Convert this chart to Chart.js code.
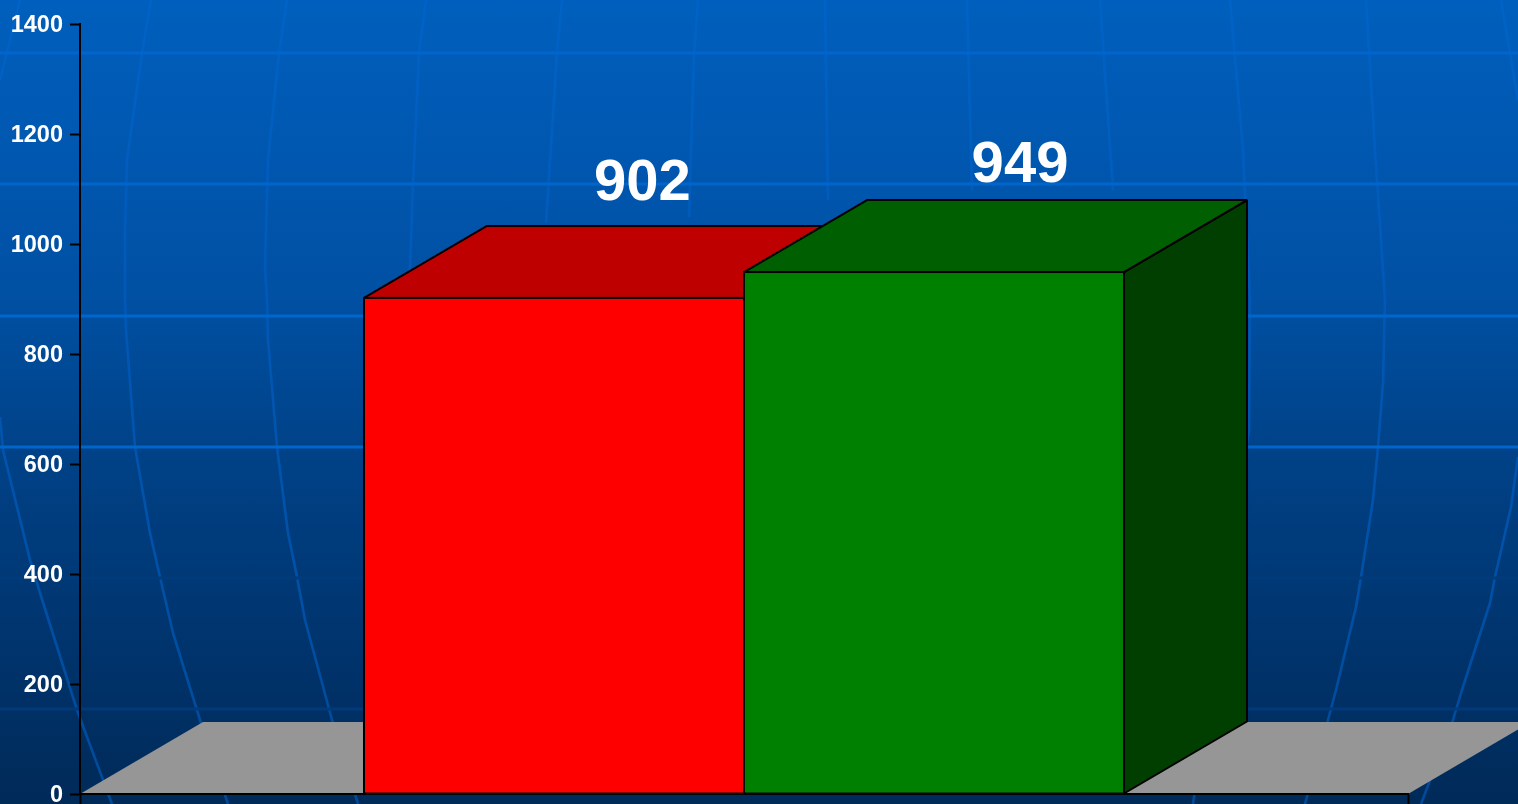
<!DOCTYPE html>
<html>
<head>
<meta charset="utf-8">
<script src="https://cdn.jsdelivr.net/npm/chart.js@4"></script>
<style>
html,body{margin:0;padding:0;width:1518px;height:804px;overflow:hidden;background:#002a58}
#bg{position:absolute;left:0;top:0}
#c{position:absolute;left:0;top:0;display:block}
</style>
</head>
<body>
<svg id="bg" width="1518" height="804" viewBox="0 0 1518 804" xmlns="http://www.w3.org/2000/svg">
<defs>
<linearGradient id="sky" gradientUnits="userSpaceOnUse" x1="0" y1="0" x2="0" y2="804">
<stop offset="0" stop-color="#005FBD"/><stop offset="0.37" stop-color="#0050A3"/>
<stop offset="0.56" stop-color="#004288"/><stop offset="0.8" stop-color="#00346D"/>
<stop offset="1" stop-color="#002A58"/>
</linearGradient>
<linearGradient id="mer" gradientUnits="userSpaceOnUse" x1="0" y1="0" x2="0" y2="804">
<stop offset="0" stop-color="#0063C8"/><stop offset="0.4" stop-color="#0058B6"/>
<stop offset="1" stop-color="#004A9A"/>
</linearGradient>
</defs>
<rect width="1518" height="804" fill="url(#sky)"/>
<g id="mers" fill="none" stroke="url(#mer)" stroke-width="2.6" stroke-linejoin="round"></g>
<g id="hors"></g>
</svg>
<canvas id="c" width="1518" height="804"></canvas>
<script>
// ---- chart values ----
const categories = [''];
const seriesNames = ['A', 'B'];
const seriesValues = [902, 949];
const axisMin = 0, axisMax = 1400, axisStep = 200;

// ---- styles ----
const frontColors = ['#FF0000', '#008000'];
const topColors = ['#BF0000', '#005F00'];
const sideColors = ['#7F0000', '#003F00'];
const floorColor = '#969696';
const depthX = 123, depthY = 72;
const labelDX = [88.5, 86], labelDY = [-97.5, -90];

// ---- backdrop decoration ----
const meridians = [
 '20,0 0,80', '0,417 3,450 30,560 40,593 77,710 112,804',
 '151,0 142,53 127,160 125,233 125,300 126,330 135,447 150,533 160,577 173,633 200,720 228,804',
 '287,0 279,53 268,160 265,267 267,300 268,340 277,447 288,533 297,577 305,620 332,720 358,804',
 '426,0 419,53 413,183 410,267 409,300', '562,0 557,53 546,223', '698,0 694,55 689,217',
 '825,0 828,200', '967,0 972,190', '1100,0 1113,190',
 '1230,0 1243,150 1250,300 1249,430 1193,804',
 '1366,0 1375,150 1385,300 1383,383 1378,447 1373,500 1361,577 1356,607 1336,690 1328,720 1305,804',
 '1501,0 1518,100', '1518,457 1511,507 1495,577 1490,603 1461,693 1453,720 1421,804'
];
const horizontals = [[53,'#0066CC'],[184,'#0066CC'],[316,'#0066CC'],[447,'#0066CC'],[578,'#003C7B'],[709,'#003A7A']];
const NS = 'http://www.w3.org/2000/svg';
meridians.forEach(p => { const e = document.createElementNS(NS,'polyline'); e.setAttribute('points',p); document.getElementById('mers').appendChild(e); });
horizontals.forEach(([y,col]) => { const e = document.createElementNS(NS,'rect'); e.setAttribute('x',0); e.setAttribute('y',y-1.5); e.setAttribute('width',1518); e.setAttribute('height',3); e.setAttribute('fill',col); document.getElementById('hors').appendChild(e); });

function poly(ctx, pts, fill) {
  ctx.beginPath();
  pts.forEach((p,i) => i ? ctx.lineTo(p[0],p[1]) : ctx.moveTo(p[0],p[1]));
  ctx.closePath();
  if (fill) { ctx.fillStyle = fill; ctx.fill(); }
  ctx.lineJoin = 'bevel'; ctx.strokeStyle = '#000'; ctx.lineWidth = 2;
}

const box3d = {
  id: 'box3d',
  beforeDraw(chart) {
    const {ctx, chartArea:a} = chart;
    ctx.save();
    poly(ctx, [[a.left,a.bottom],[a.left+depthX,a.bottom-depthY],[a.right+depthX,a.bottom-depthY],[a.right,a.bottom]], floorColor);
    ctx.restore();
  },
  beforeDatasetsDraw(chart) {
    const {ctx} = chart;
    ctx.save();
    chart.data.datasets.forEach((d,i) => {
      const el = chart.getDatasetMeta(i).data[0];
      const l = el.x-el.width/2, r = el.x+el.width/2, t = el.y, b = el.base;
      const side = [[r,t],[r+depthX,t-depthY],[r+depthX,b-depthY],[r,b]];
      const top = [[l,t],[l+depthX,t-depthY],[r+depthX,t-depthY],[r,t]];
      poly(ctx, side, sideColors[i]); ctx.stroke();
      poly(ctx, top, topColors[i]); ctx.stroke();
    });
    ctx.restore();
  },
  afterDatasetsDraw(chart) {
    const {ctx} = chart;
    ctx.save();
    chart.data.datasets.forEach((d,i) => {
      const el = chart.getDatasetMeta(i).data[0];
      const l = el.x-el.width/2, r = el.x+el.width/2;
      ctx.strokeStyle = '#000'; ctx.lineWidth = 2;
      ctx.strokeRect(l, el.y, r-l, el.base-el.y);
      ctx.fillStyle = '#fff';
      ctx.font = 'bold 58px "Liberation Sans", Arial, sans-serif';
      ctx.textAlign = 'center'; ctx.textBaseline = 'alphabetic';
      ctx.fillText(String(d.data[0]), el.x+labelDX[i], el.y+labelDY[i]);
    });
    ctx.restore();
  }
};

new Chart(document.getElementById('c'), {
  type: 'bar',
  data: {
    labels: categories,
    datasets: seriesValues.map((v,i) => ({
      label: seriesNames[i], data: [v], backgroundColor: frontColors[i], borderWidth: 0,
      barPercentage: 1, categoryPercentage: 0.5723
    }))
  },
  plugins: [box3d],
  options: {
    responsive: false,
    animation: false,
    events: [],
    layout: { padding: { left: 0, right: 110, top: 24, bottom: 10 } },
    plugins: { legend: {display:false}, title: {display:false}, tooltip: {enabled:false} },
    scales: {
      x: {
        offset: true,
        border: { display:true, color:'#000', width:2 },
        grid: { drawOnChartArea:false, drawTicks:true, tickLength:10, tickColor:'#000', tickWidth:2, offset:true },
        ticks: { display:false },
        afterFit(s) { s.height = 0; s.paddingLeft = 0; s.paddingRight = 0; }
      },
      y: {
        min: axisMin, max: axisMax,
        border: { display:true, color:'#000', width:2 },
        grid: { drawOnChartArea:false, drawTicks:true, tickLength:10, tickColor:'#000', tickWidth:2 },
        ticks: { stepSize: axisStep, color:'#fff', padding:7, labelOffset:2, callback: v => String(v), font:{ family:'"Liberation Sans", Arial, sans-serif', size:23.5, weight:'bold' } },
        afterFit(s) { s.width = 80; s.paddingTop = 0; s.paddingBottom = 0; }
      }
    }
  }
});
</script>
</body>
</html>
